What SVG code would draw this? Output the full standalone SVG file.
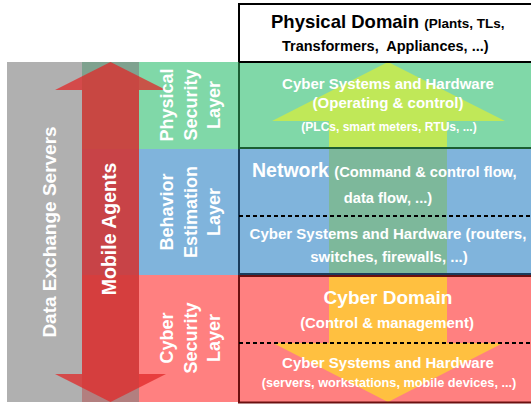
<svg xmlns="http://www.w3.org/2000/svg" width="531" height="405" viewBox="0 0 531 405">
<style>
.t{font-family:"Liberation Sans",Arial,sans-serif;font-weight:bold;fill:#fff}
.k{fill:#000}
.m{text-anchor:middle}
.dash{stroke:#000;stroke-width:2;stroke-dasharray:4 3;fill:none}
</style>
<g id="bands">
<rect x="82" y="62" width="450" height="87" fill="#80d8a8"/>
<rect x="82" y="149" width="450" height="126" fill="#80b4dc"/>
<rect x="82" y="275" width="450" height="127" fill="#ff8080"/>
</g>
<g id="data-exchange-servers">
<rect x="7" y="62" width="75" height="340" fill="#b0b0b0"/>
<text class="t m" font-size="19" transform="translate(56,232) rotate(-90)">Data Exchange Servers</text>
</g>
<g id="physical-domain">
<rect x="239" y="4" width="300" height="58" fill="#fff" stroke="#000" stroke-width="2"/>
<text class="t k" x="271" y="28" font-size="18.5">Physical Domain <tspan font-size="13.5">(Plants, TLs,</tspan></text>
<text class="t k" x="282" y="51" font-size="14.5" xml:space="preserve" style="white-space:pre">Transformers,  Appliances, ...)</text>
</g>
<g id="connectors">
<rect x="82" y="62" width="57" height="340" fill="#7f7f7f" opacity="0.6"/>
<polygon points="388,62 505,121 447,121 447,149 329,149 329,121 272,121" fill="#c0e858"/>
<rect x="329" y="149" width="118" height="126" fill="#7db89b"/>
<polygon points="329,275 447,275 447,343 503,343 388,402 273,343 329,343" fill="#ffc040"/>
<polygon points="110.5,62 166,90 139,90 139,374 166,374 110.5,402 55,374 82,374 82,90 55,90" fill="#e02828" opacity="0.75"/>
</g>
<g id="mobile-agents">
<text class="t m" font-size="19.5" transform="translate(116,229) rotate(-90)">Mobile Agents</text>
</g>
<g id="physical-security-layer">
<text class="t m" font-size="18" transform="translate(173,105) rotate(-90)">Physical</text>
<text class="t m" font-size="18" transform="translate(197,105) rotate(-90)">Security</text>
<text class="t m" font-size="18" transform="translate(220,105) rotate(-90)">Layer</text>
</g>
<g id="behavior-estimation-layer">
<text class="t m" font-size="18" transform="translate(173,212) rotate(-90)">Behavior</text>
<text class="t m" font-size="18" transform="translate(197,212) rotate(-90)">Estimation</text>
<text class="t m" font-size="18" transform="translate(220,212) rotate(-90)">Layer</text>
</g>
<g id="cyber-security-layer">
<text class="t m" font-size="18" transform="translate(173,338) rotate(-90)">Cyber</text>
<text class="t m" font-size="18" transform="translate(197,338) rotate(-90)">Security</text>
<text class="t m" font-size="18" transform="translate(220,338) rotate(-90)">Layer</text>
</g>
<g id="physical-hardware">
<path d="M239,62 V148 H532" fill="none" stroke="#1b5e33" stroke-width="2"/>
<line class="dash" x1="239" y1="62" x2="532" y2="62"/>
<text class="t m" x="388" y="89" font-size="15">Cyber Systems and Hardware</text>
<text class="t m" x="388" y="108" font-size="15">(Operating &amp; control)</text>
<text class="t m" x="389" y="131" font-size="12">(PLCs, smart meters, RTUs, ...)</text>
</g>
<g id="network">
<path d="M239,149 V274 H532" fill="none" stroke="#1a3c5c" stroke-width="2"/>
<line class="dash" x1="239" y1="216" x2="532" y2="216"/>
<text class="t" x="252" y="177" font-size="19.5">Network <tspan font-size="14.7">(Command &amp; control flow,</tspan></text>
<text class="t m" x="388" y="203" font-size="14.7">data flow, ...)</text>
<text class="t m" x="388" y="239" font-size="15">Cyber Systems and Hardware (routers,</text>
<text class="t m" x="389" y="262" font-size="15">switches, firewalls, ...)</text>
</g>
<g id="cyber-domain">
<path d="M532,276 H239 V402.5 H532" fill="none" stroke="#6b1010" stroke-width="2"/>
<line class="dash" x1="239" y1="343" x2="532" y2="343"/>
<text class="t m" x="388" y="304" font-size="19">Cyber Domain</text>
<text class="t m" x="387" y="328" font-size="14.9">(Control &amp; management)</text>
<text class="t m" x="388" y="368" font-size="15">Cyber Systems and Hardware</text>
<text class="t m" x="389" y="387" font-size="12.7">(servers, workstations, mobile devices, ...)</text>
</g>
</svg>
